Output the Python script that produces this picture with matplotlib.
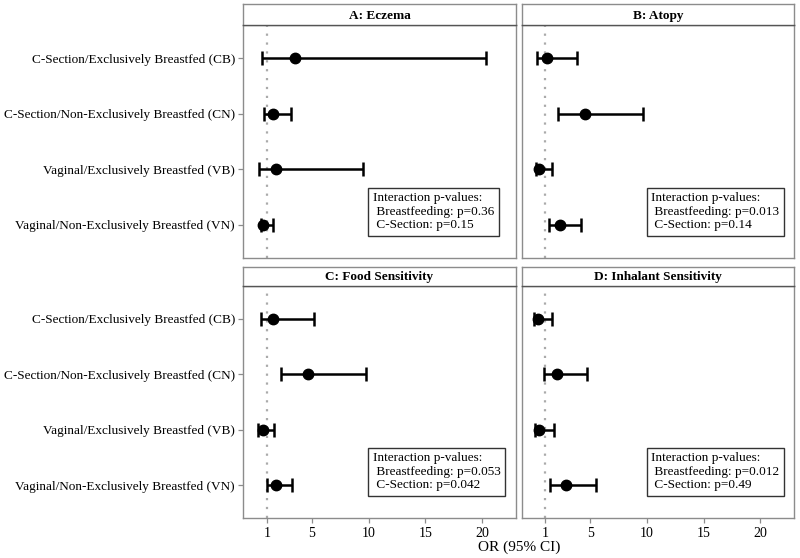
import numpy as np
import matplotlib.pyplot as plt

plt.rcParams['font.family'] = ['Liberation Serif', 'DejaVu Serif']

groups = ["C-Section/Exclusively Breastfed (CB)",
          "C-Section/Non-Exclusively Breastfed (CN)",
          "Vaginal/Exclusively Breastfed (VB)",
          "Vaginal/Non-Exclusively Breastfed (VN)"]

titles = ["A: Eczema", "B: Atopy", "C: Food Sensitivity", "D: Inhalant Sensitivity"]

# odds ratios and 95% CI, order CB, CN, VB, VN
or_est = [[3.5, 1.58, 1.82, 0.70],
          [1.14, 4.55, 0.49, 2.33],
          [1.58, 4.63, 0.70, 1.82],
          [0.41, 2.03, 0.49, 2.86]]
ci_low = [[0.56, 0.79, 0.35, 0.47],
          [0.29, 2.18, 0.20, 1.32],
          [0.50, 2.24, 0.26, 1.05],
          [0.05, 0.94, 0.14, 1.47]]
ci_high = [[20.4, 3.15, 9.5, 1.53],
           [3.84, 9.65, 1.58, 4.13],
           [5.2, 9.76, 1.67, 3.27],
           [1.62, 4.69, 1.82, 5.46]]

p_breast = ["0.36", "0.013", "0.053", "0.012"]
p_csec = ["0.15", "0.14", "0.042", "0.49"]

xticks = [1, 5, 10, 15, 20]

W, H = 800, 558
fig = plt.figure(figsize=(8, 5.58), dpi=100)

# panel pixel boxes: (left, strip_top, panel_top, panel_bottom)
lefts = [243.3, 521.7, 243.3, 521.7]
tops = [(4, 25), (4, 25), (266.5, 285.7), (266.5, 285.7)]
bottoms = [258.3, 258.3, 518.3, 518.3]
pw = 272.5
border = "#8c8c8c"
fs = 9.5

ypos = np.arange(1, len(groups) + 1)

for i in range(4):
    l = lefts[i]
    st, pt = tops[i]
    pb = bottoms[i]
    ax = fig.add_axes([l / W, 1 - pb / H, pw / W, (pb - pt) / H])
    sax = fig.add_axes([l / W, 1 - pt / H, pw / W, (pt - st) / H])

    sax.set_xticks([]); sax.set_yticks([])
    for s in sax.spines.values():
        s.set_color(border); s.set_linewidth(1.0)
    sax.spines['bottom'].set_color("#555555")
    sax.text(0.5, 0.45, titles[i], ha='center', va='center', fontsize=fs,
             fontweight='bold', transform=sax.transAxes)

    ax.axvline(1, color="#aaaaaa", ls=(0, (1, 3)), lw=1.6, zorder=1)
    est = np.array(or_est[i]); lo = np.array(ci_low[i]); hi = np.array(ci_high[i])
    ax.errorbar(est, ypos, xerr=[est - lo, hi - est], fmt='o', color='black',
                ms=7.5, elinewidth=1.8, capsize=5, capthick=1.8, zorder=3)

    ax.set_xlim(-1.07, 23.0)
    ax.set_ylim(4.6, 0.4)
    ax.set_yticks(ypos)
    ax.tick_params(axis='both', color=border, length=3.5, width=0.9, pad=2.5)
    if i % 2 == 0:
        ax.set_yticklabels(groups, fontsize=fs)
    else:
        ax.set_yticklabels([])
        ax.tick_params(axis='y', left=False)
    if i >= 2:
        ax.set_xticks(xticks)
        ax.set_xticklabels([str(v) for v in xticks], fontsize=fs + 0.5)
    else:
        ax.set_xticks([])
    for s in ax.spines.values():
        s.set_color(border); s.set_linewidth(1.0)

    txt = ("Interaction p-values:\n Breastfeeding: p=" + p_breast[i] +
           "\n C-Section: p=" + p_csec[i])
    ax.text(0.475, 0.2, txt, transform=ax.transAxes, ha='left', va='center',
            fontsize=fs, linespacing=1.15,
            bbox=dict(boxstyle='square,pad=0.35', fc='white', ec='#333333', lw=1.0))

fig.text(519 / W, 1 - 547 / H, "OR (95% CI)", ha='center', va='center', fontsize=11)

fig.savefig("out.png", dpi=100)
